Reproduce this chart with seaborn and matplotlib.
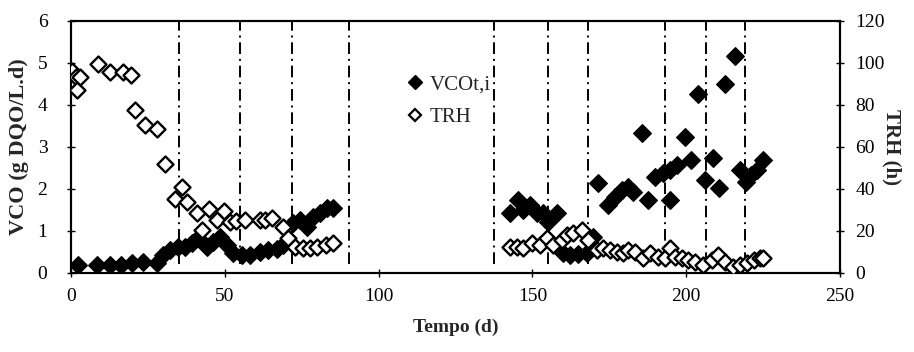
import matplotlib
matplotlib.use("Agg")
import matplotlib.pyplot as plt
import seaborn as sns
import pandas as pd
from matplotlib.lines import Line2D

# VCOt,i (left axis)
vco_day = [2.4, 8.3, 12.6, 16.4, 19.7, 23.5, 27.9, 30.0, 32.2, 34.9, 37.0, 39.2, 41.4, 44.1,
           46.3, 48.4, 50.6, 52.8, 55.5, 58.2, 61.4, 64.1, 66.9, 69.0, 72.3, 74.4, 76.6, 78.8,
           80.9, 83.1, 85.3,
           142.7, 145.4, 147.0, 149.2, 151.4, 153.6, 155.2, 157.9, 160.0, 162.2, 164.9, 167.6,
           169.8, 171.4, 174.7, 176.9, 179.0, 181.2, 182.8, 185.5, 187.7, 189.9, 192.6, 194.7,
           194.7, 196.9, 199.6, 201.6, 203.7, 206.1, 208.6, 210.7, 212.6, 215.9, 217.5, 219.4,
           221.2, 222.9, 225.0]
vco_val = [0.18, 0.18, 0.18, 0.18, 0.22, 0.26, 0.22, 0.42, 0.54, 0.62, 0.62, 0.70, 0.82, 0.62,
           0.74, 0.86, 0.66, 0.46, 0.42, 0.42, 0.50, 0.54, 0.56, 0.66, 1.18, 1.25, 1.10, 1.33,
           1.41, 1.53, 1.53,
           1.41, 1.73, 1.49, 1.61, 1.41, 1.41, 1.21, 1.41, 0.46, 0.42, 0.44, 0.46,
           0.86, 2.13, 1.61, 1.81, 1.97, 2.05, 1.93, 3.32, 1.73, 2.29, 2.37, 1.73,
           2.45, 2.56, 3.24, 2.68, 4.25, 2.21, 2.72, 2.01, 4.49, 5.17, 2.45, 2.17,
           2.33, 2.45, 2.68]

# TRH (right axis)
trh_day = [0.4, 1.6, 1.8, 2.9, 8.9, 12.7, 16.8, 19.5, 20.8, 24.0, 28.0, 30.6, 33.8, 36.0,
           37.6, 40.8, 42.5, 45.0, 47.4, 49.8, 51.7, 53.6, 56.6, 61.4, 63.0, 65.2, 68.8,
           70.7, 72.8, 75.5, 77.7, 79.9, 83.0, 85.3,
           142.7, 144.9, 147.0, 149.8, 152.5, 154.7, 156.8, 159.5, 161.2, 163.3, 166.0,
           168.2, 170.9, 173.0, 175.2, 177.4, 179.6, 181.2, 183.4, 186.0, 188.2, 190.9,
           193.0, 194.7, 196.3, 198.5, 200.7, 202.9, 205.6, 208.3, 210.4, 212.6, 215.3,
           217.5, 219.7, 221.9, 224.0, 225.0]
trh_val = [96.0, 93.0, 87.0, 93.3, 99.4, 95.7, 95.7, 94.0, 77.5, 70.3, 68.4, 52.0, 35.0, 41.0,
           33.8, 28.3, 20.3, 30.2, 25.0, 29.5, 24.3, 24.8, 25.0, 25.0, 25.0, 26.0, 22.0,
           16.4, 12.4, 11.6, 11.6, 12.4, 13.2, 14.0,
           12.4, 12.4, 11.6, 14.0, 13.2, 16.4, 13.2, 15.6, 18.0, 18.8, 20.3,
           15.6, 10.8, 11.6, 10.8, 10.0, 9.2, 10.8, 10.0, 6.9, 9.2, 7.6,
           7.0, 11.6, 7.6, 6.9, 6.0, 5.2, 3.7, 6.0, 8.4, 5.2, 2.9,
           3.7, 4.4, 6.0, 6.9, 6.9]

phase_lines = [35, 55, 72, 90.5, 137.5, 155, 168, 193, 206.5, 219]
x_ticks = [0, 50, 100, 150, 200, 250]
y1_ticks = [0, 1, 2, 3, 4, 5, 6]
y2_ticks = [0, 20, 40, 60, 80, 100, 120]

df_vco = pd.DataFrame({"day": vco_day, "val": vco_val})
df_trh = pd.DataFrame({"day": trh_day, "val": trh_val})

sns.set_style("ticks")
plt.rcParams["font.family"] = ["Liberation Serif", "DejaVu Serif"]

fig = plt.figure(figsize=(9.14, 3.52), dpi=100)
ax = fig.add_axes([0.0777, 0.2253, 0.8413, 0.7157])
ax2 = ax.twinx()

for xv in phase_lines:
    ax.axvline(xv, ymin=0.035, ymax=1, color="black", lw=1.4,
               linestyle=(0, (6, 2.5, 1, 2.5)), zorder=1)

sns.scatterplot(data=df_vco, x="day", y="val", ax=ax, marker="D", s=80,
                color="black", edgecolor="black", linewidth=1.0, zorder=3, legend=False)
sns.scatterplot(data=df_trh, x="day", y="val", ax=ax2, marker="D", s=66,
                facecolor="white", edgecolor="black", linewidth=1.7, zorder=3, legend=False)

ax.set_xlim(0, 250)
ax.set_ylim(0, 6)
ax2.set_ylim(0, 120)
ax.set_xticks(x_ticks)
ax.set_yticks(y1_ticks)
ax2.set_yticks(y2_ticks)

ax.set_xlabel("Tempo (d)", fontsize=14, fontweight="bold", labelpad=10)
ax.set_ylabel("VCO (g DQO/L.d)", fontsize=16, fontweight="bold", labelpad=6)
ax2.set_ylabel("TRH (h)", fontsize=15, fontweight="bold", rotation=270, labelpad=12)

for a in (ax, ax2):
    a.tick_params(labelsize=14, direction="inout", length=6, width=1, colors="black")
    for sp in a.spines.values():
        sp.set_visible(True)
        sp.set_linewidth(1.5)
        sp.set_color("black")
ax.tick_params(axis="x", pad=8)
ax.tick_params(axis="y", pad=14)
ax2.tick_params(axis="y", pad=8)

handles = [
    Line2D([], [], marker="D", linestyle="none", markersize=7, markerfacecolor="black",
           markeredgecolor="black", label="VCOt,i"),
    Line2D([], [], marker="D", linestyle="none", markersize=6.5, markerfacecolor="white",
           markeredgecolor="black", markeredgewidth=1.6, label="TRH"),
]
leg = ax2.legend(handles=handles, loc="upper left", bbox_to_anchor=(0.41, 0.86),
                 frameon=False, fontsize=15, handletextpad=0.2, labelspacing=0.65,
                 handlelength=1.0)

fig.savefig("out.png", dpi=100)
